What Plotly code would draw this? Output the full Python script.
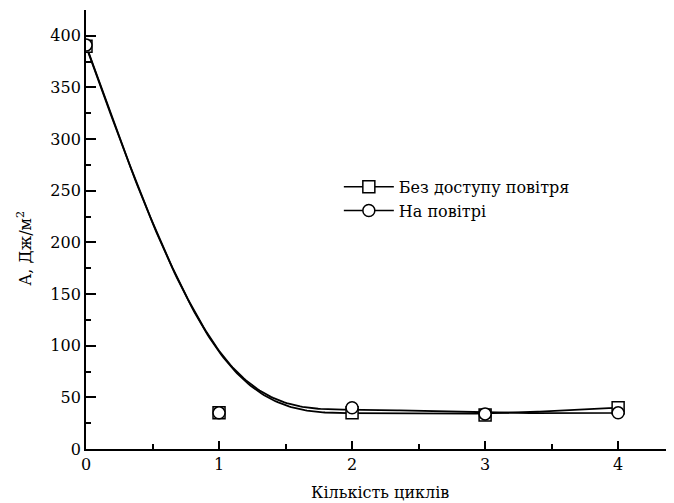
import numpy as np
import plotly.graph_objects as go

# ---- data ----
cycles = [0, 1, 2, 3, 4]
no_air = [390, 35, 35, 33, 40]      # "Без доступу повітря" (squares)
in_air = [391, 35, 40, 34, 35]      # "На повітрі" (circles)
label_no_air = "Без доступу повітря"
label_in_air = "На повітрі"
x_ticks = [0, 1, 2, 3, 4]
y_ticks = [0, 50, 100, 150, 200, 250, 300, 350, 400]


def bspline(xs, ys, n=60):
    """Uniform cubic B-spline connection using the data points as control
    points (end points tripled), i.e. the 'B-spline' connect style of the
    original plot."""
    P = np.column_stack([xs, ys]).astype(float)
    P = np.vstack([P[0], P[0], P, P[-1], P[-1]])
    t = np.linspace(0, 1, n)
    b0 = (1 - t) ** 3 / 6
    b1 = (3 * t ** 3 - 6 * t ** 2 + 4) / 6
    b2 = (-3 * t ** 3 + 3 * t ** 2 + 3 * t + 1) / 6
    b3 = t ** 3 / 6
    segs = []
    for i in range(len(P) - 3):
        seg = (np.outer(b0, P[i]) + np.outer(b1, P[i + 1])
               + np.outer(b2, P[i + 2]) + np.outer(b3, P[i + 3]))
        segs.append(seg)
    out = np.vstack(segs)
    return out[:, 0], out[:, 1]


fig = go.Figure()
for ys in [no_air, in_air]:
    bx, by = bspline(cycles, ys)
    fig.add_trace(go.Scatter(x=bx, y=by, mode="lines",
                             line=dict(color="black", width=1.8),
                             showlegend=False, hoverinfo="skip"))
for ys, sym in [(no_air, "square"), (in_air, "circle")]:
    fig.add_trace(go.Scatter(x=cycles, y=ys, mode="markers",
                             marker=dict(symbol=sym, size=12, color="white",
                                         line=dict(color="black", width=1.5)),
                             showlegend=False))
for sym, name in [("square", label_no_air), ("circle", label_in_air)]:
    fig.add_trace(go.Scatter(x=[None], y=[None], mode="lines+markers", name=name,
                             line=dict(color="black", width=1.5),
                             marker=dict(symbol=sym, size=12, color="white",
                                         line=dict(color="black", width=1.5))))

font = "DejaVu Serif"
fs = 16
fig.update_layout(
    width=666, height=495,
    margin=dict(l=78, r=0, t=2, b=54),
    paper_bgcolor="white", plot_bgcolor="white",
    font=dict(family=font, size=fs, color="black"),
    showlegend=True,
    legend=dict(x=0.43, y=0.57, xanchor="left", yanchor="middle",
                bgcolor="rgba(0,0,0,0)", borderwidth=0,
                font=dict(family=font, size=fs), itemwidth=50, tracegroupgap=0),
    xaxis=dict(range=[0, 4.42], tickvals=x_ticks, ticks="inside", ticklen=8,
               tickwidth=1.5, tickcolor="black", showline=True, linecolor="black",
               linewidth=1.8, showgrid=False, zeroline=False, mirror=False,
               minor=dict(dtick=0.5, ticks="inside", ticklen=5, tickwidth=1.5,
                          tickcolor="black", showgrid=False),
               tickfont=dict(family=font, size=fs)),
    yaxis=dict(range=[0, 425], tickvals=y_ticks, ticks="inside", ticklen=10,
               tickwidth=1.5, tickcolor="black", showline=True, linecolor="black",
               linewidth=1.8, showgrid=False, zeroline=False, mirror=False,
               minor=dict(dtick=25, ticks="inside", ticklen=5, tickwidth=1.5,
                          tickcolor="black", showgrid=False),
               tickfont=dict(family=font, size=fs)),
    annotations=[
        dict(text="Кількість циклів", xref="paper", yref="paper", x=0.5, y=-0.1,
             xanchor="center", yanchor="middle", showarrow=False,
             font=dict(family=font, size=fs)),
        dict(text="А, Дж/м<sup>2</sup>", xref="paper", yref="paper", x=-0.104, y=0.458,
             xanchor="center", yanchor="middle", textangle=-90, showarrow=False,
             font=dict(family=font, size=fs)),
    ],
)
fig.write_html("out.html")
